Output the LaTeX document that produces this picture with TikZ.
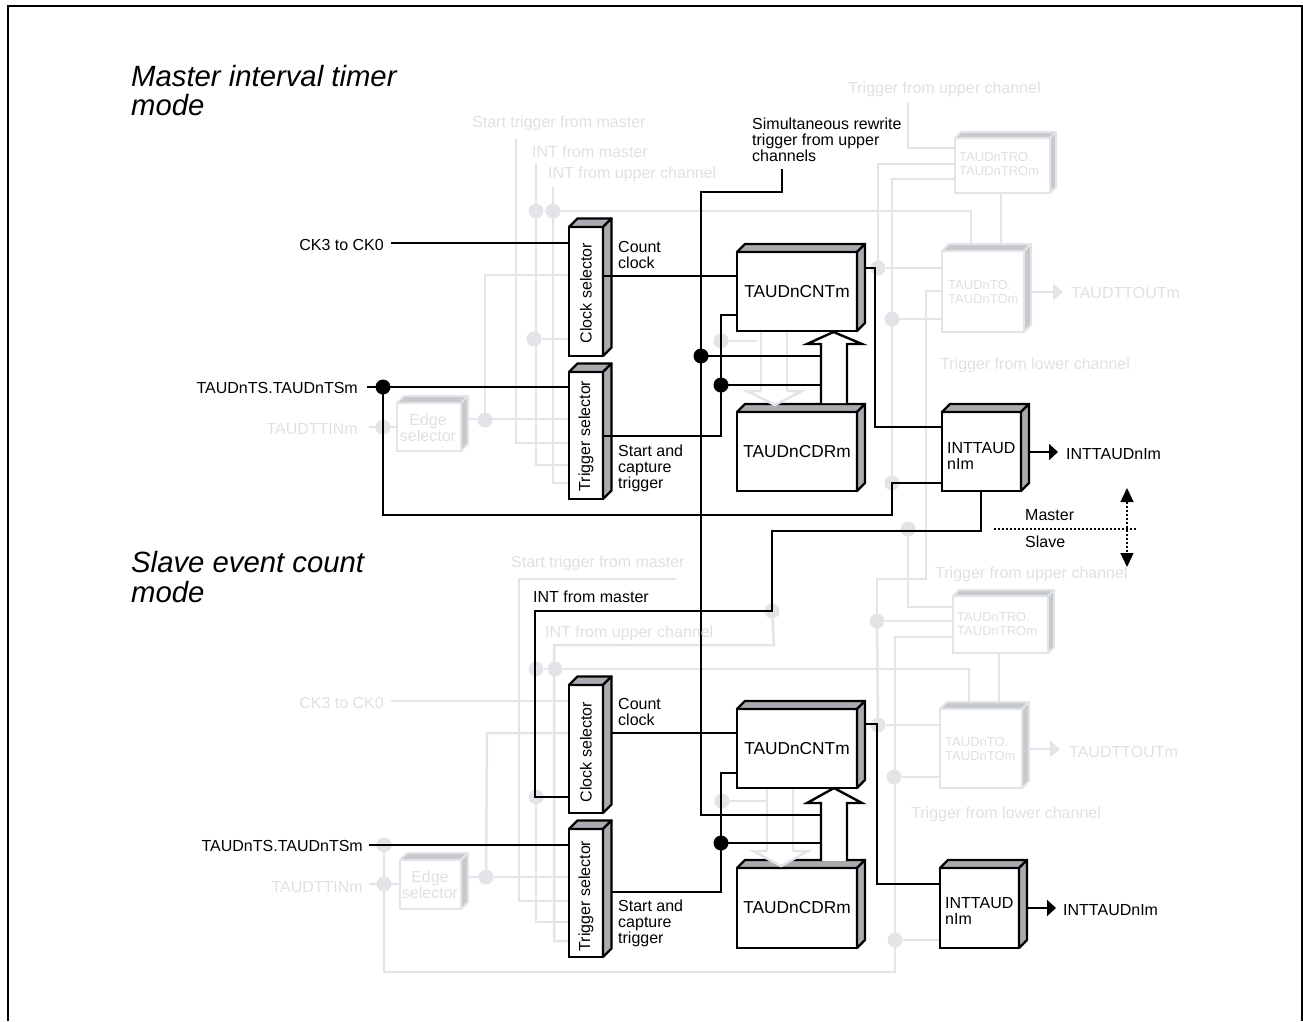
\documentclass[tikz,border=0pt]{standalone}
\usepackage{fontspec}
\setmainfont{Liberation Sans}
\usetikzlibrary{arrows.meta}
\pgfdeclarelayer{grayl}
\pgfdeclarelayer{blackl}
\pgfsetlayers{grayl,blackl,main}
\definecolor{gl}{HTML}{E2E4E8}
\definecolor{gt}{HTML}{DEE0E4}
\definecolor{gface}{HTML}{C6C9CD}
\definecolor{bface}{HTML}{A8ABAF}
\tikzset{
  lab/.style={inner sep=0pt,font=\fontsize{16}{16}\selectfont,text=black},
  glab/.style={lab,text=gt},
  title/.style={inner sep=0pt,align=left,anchor=west,font=\fontsize{29.3}{29.5}\selectfont\itshape},
  bb/.style={draw=black,fill=white,line width=2.4pt,inner sep=0pt,outer sep=0pt,font=\fontsize{17.3}{17.3}\selectfont},
  gb/.style={draw=gl,fill=white,line width=2.5pt,inner sep=0pt,outer sep=0pt},
  bbside/.style={draw=black,fill=bface,line width=2.4pt,line join=round},
  gbside/.style={draw=gl,fill=gface,line width=2pt,line join=round},
  wire/.style={draw=black,line width=2.4pt,line join=miter},
  gwire/.style={draw=gl,line width=2.5pt,line join=miter},
  bdot/.style={circle,fill=black,inner sep=0pt,minimum size=15pt},
  gdot/.style={circle,fill=gl,inner sep=0pt,minimum size=15pt},
  garr/.style={gwire,-{Triangle[length=10pt,width=16pt,fill=gl]}},
  barr/.style={wire,-{Triangle[length=9pt,width=16pt,fill=black]}},
  dotl/.style={draw=black,line width=1.3pt,dash pattern=on 2pt off 2pt},
  tip/.style={draw=black,line width=1.3pt,dash pattern=on 2pt off 2pt,{Triangle[length=14pt,width=13pt,fill=black]}-{Triangle[length=14pt,width=13pt,fill=black]}}
}
% style, name, x1, y1, x2, y2, depth, text
\newcommand\threed[8]{%
  \node[#1,name=#2,anchor=north west,minimum width={(#5-#3)*1pt},minimum height={(#6-#4)*1pt}] at (#3,#4) {#8};
  \draw[#1side] (#2.north west) -- ([shift={(#7,-#7)}]#2.north west) -- ([shift={(#7,-#7)}]#2.north east) -- (#2.north east) -- cycle;
  \draw[#1side] (#2.north east) -- ([shift={(#7,-#7)}]#2.north east) -- ([shift={(#7,-#7)}]#2.south east) -- (#2.south east) -- cycle;
}
\begin{document}
\begin{tikzpicture}[x=1pt,y=-1pt]
\useasboundingbox (0,0) rectangle (1303,1021);
\coordinate (fa) at (7.5,1021); \coordinate (fb) at (7.5,6); \coordinate (fc) at (1302,6); \coordinate (fd) at (1302,1021);
\draw[line width=2pt,line join=miter] (fa) -- (fb) -- (fc) -- (fd);

\node[title] (t1) at (131,90.5) {Master interval timer\\mode};
\node[title] (t2) at (131,577) {Slave event count\\mode};

% ---------- boxes: upper ----------
\threed{gb}{edgeA}{397}{403}{461}{451}{7}{}
\threed{gb}{troA}{955}{138}{1050}{193}{6}{}
\threed{gb}{toA}{942}{251}{1024}{332}{7}{}
\threed{bb}{clkA}{569}{227}{603}{356}{8.5}{}
\threed{bb}{trgA}{569}{372}{603}{499}{8.5}{}
\threed{bb}{cntA}{737}{252}{857}{331}{8}{TAUDnCNTm}
\threed{bb}{cdrA}{737}{412}{857}{491}{8}{TAUDnCDRm}
\threed{bb}{intA}{942}{412}{1021}{491}{8}{}
% ---------- boxes: lower ----------
\threed{gb}{edgeB}{400}{860}{461}{909}{7}{}
\threed{gb}{troB}{953}{596}{1048}{653}{6}{}
\threed{gb}{toB}{940}{709}{1022}{788}{7}{}
\threed{bb}{clkB}{569}{685}{603}{813}{8.5}{}
\threed{bb}{trgB}{569}{829}{603}{957}{8.5}{}
\threed{bb}{cntB}{737}{709}{857}{788}{8}{TAUDnCNTm}
\threed{bb}{cdrB}{737}{868}{857}{948}{8}{TAUDnCDRm}
\threed{bb}{intB}{940}{868}{1019}{948}{8}{}

% ---------- box texts ----------
\node[lab,rotate=90] (clkAt) at (586,293) {Clock selector};
\node[lab,rotate=90] (trgAt) at (586,436) {Trigger selector};
\node[lab,rotate=90] (clkBt) at (586,752) {Clock selector};
\node[lab,rotate=90] (trgBt) at (586,896) {Trigger selector};
\node[glab,align=center,anchor=center] (edgeAt) at (428,428) {Edge\\selector};
\node[glab,align=center,anchor=center] (edgeBt) at (430,885) {Edge\\selector};
\node[glab,align=left,anchor=west,font=\fontsize{13}{13.5}\selectfont] (troAt) at (959,164) {TAUDnTRO.\\TAUDnTROm};
\node[glab,align=left,anchor=west,font=\fontsize{13}{13.5}\selectfont] (troBt) at (957,624) {TAUDnTRO.\\TAUDnTROm};
\node[glab,align=left,anchor=west,font=\fontsize{13}{13.5}\selectfont] (toAt) at (948,292) {TAUDnTO.\\TAUDnTOm};
\node[glab,align=left,anchor=west,font=\fontsize{13}{13.5}\selectfont] (toBt) at (945,749) {TAUDnTO.\\TAUDnTOm};
\node[lab,align=left,anchor=west] (intAt) at (947,456) {INTTAUD\\nIm};
\node[lab,align=left,anchor=west] (intBt) at (945,911) {INTTAUD\\nIm};

% ---------- labels ----------
\node[lab,anchor=base east] (ckA) at (384,250) {CK3 to CK0};
\node[lab,anchor=base east] (tsA) at (358,393) {TAUDnTS.TAUDnTSm};
\node[glab,anchor=base east] (ttA) at (358,434) {TAUDTTINm};
\node[glab,anchor=base west] (l1) at (472,127) {Start trigger from master};
\node[glab,anchor=base west] (l2) at (532,157) {INT from master};
\node[glab,anchor=base west] (l3) at (548,178) {INT from upper channel};
\node[glab,anchor=base west] (l4) at (848,93) {Trigger from upper channel};
\node[glab,anchor=base west] (l5) at (940,369) {Trigger from lower channel};
\node[glab,anchor=base west] (l6) at (1071,298) {TAUDTTOUTm};
\node[lab,align=left,anchor=west] (sim) at (752,139.5) {Simultaneous rewrite\\trigger from upper\\channels};
\node[lab,align=left,anchor=west] (ccA) at (618,255) {Count\\clock};
\node[lab,align=left,anchor=west] (scA) at (618,468) {Start and\\capture\\trigger};
\node[lab,anchor=base west] (oA) at (1066,459) {INTTAUDnIm};
\node[lab,anchor=base west] (ma) at (1025,520) {Master};
\node[lab,anchor=base west] (sl) at (1025,547) {Slave};

\node[glab,anchor=base east] (ckB) at (384,708) {CK3 to CK0};
\node[lab,anchor=base east] (tsB) at (363,851) {TAUDnTS.TAUDnTSm};
\node[glab,anchor=base east] (ttB) at (363,892) {TAUDTTINm};
\node[glab,anchor=base west] (m1) at (511,567) {Start trigger from master};
\node[lab,anchor=base west] (m2) at (533,602) {INT from master};
\node[glab,anchor=base west] (m3) at (545,637) {INT from upper channel};
\node[glab,anchor=base west] (m4) at (935,578) {Trigger from upper channel};
\node[glab,anchor=base west] (m5) at (911,818) {Trigger from lower channel};
\node[glab,anchor=base west] (m6) at (1069,757) {TAUDTTOUTm};
\node[lab,align=left,anchor=west] (ccB) at (618,711.5) {Count\\clock};
\node[lab,align=left,anchor=west] (scB) at (618,923) {Start and\\capture\\trigger};
\node[lab,anchor=base west] (oB) at (1063,915) {INTTAUDnIm};

% ---------- gray wires and junctions ----------
\begin{pgfonlayer}{grayl}
\foreach \n/\x/\y in {g1/536/211,g2/553/211,g3/485/420,g4/534/339,g5/383/427,g6/878/268,g7/892/319,g8/892/483,g9/721/341,g10/908/529,
  h1/536/669,h2/555/669,h3/486/877,h4/536/797,h5/384/845,h6/384/884,h7/877/621,h8/878/725,h9/894/777,h10/895/940,h11/722/801,h12/772/611}
  \node[gdot] (\n) at (\x,\y) {};
\path[gwire] (516,139) -- (516,443) -- (trgA.west |- 0,443);
\path[gwire] (536,163) -- (536,465) -- (trgA.west |- 0,465);
\path[gwire] (553,187) -- (553,483) -- (trgA.west |- 0,483);
\path[gwire] (g1) -- (g2) -- (971,211) -- (971,244);
\path[gwire] (clkA.west |- 0,275) -- (485,275) -- (g3.center);
\path[gwire] (edgeA.east) ++(7,0) |- (trgA.west |- 0,419);
\path[gwire] (g4) -- (clkA.west |- 0,339);
\path[gwire] (369,427) -- (edgeA.west |- 0,427);
\path[gwire] (908,103) |- (troA.west |- 0,148);
\path[gwire] (troA.west |- 0,164) -| (g6.center);
\path[gwire] (g6) -- (toA.west |- 0,268);
\path[gwire] (troA.west |- 0,179) -| (g8.center);
\path[gwire] (g7) -- (toA.west |- 0,319);
\path[gwire] (toA.west |- 0,291) -| (926,579) -| (h7.center);
\path[gwire] (g10.center) |- (troB.west |- 0,607);
\path[gwire] (troA.south -| 1001,0) -- (toA.north -| 1001,0);
\path[garr] (1031,292) -- (1063,292);
\path[gwire] (g9) -- (757,341);
\path[gwire] (761,331) -- (761,391);
\path[gwire] (787,331) -- (787,391);

\path[gwire] (676,579) -- (519,579) -- (519,901) -- (trgB.west |- 0,901);
\path[gwire] (h12.center) -- (774,645) -- (554,645) -- (554,941) -- (trgB.west |- 0,941);
\path[gwire] (h1) -- (h2) -- (969,669) -- (969,702);
\path[gwire] (391,701) -- (clkB.west |- 0,701);
\path[gwire] (clkB.west |- 0,733) -- (487,733) -- (h3.center);
\path[gwire] (edgeB.east) ++(7,0) |- (trgB.west |- 0,877);
\path[gwire] (h4.center) -- (536,922) -- (trgB.west |- 0,922);
\path[gwire] (h5.center) -- (384,972) -- (895,972) -- (h10.center);
\path[gwire] (h10) -- (toB.west |- 0,940);
\path[gwire] (369,884) -- (edgeB.west |- 0,884);
\path[gwire] (h7) -- (troB.west |- 0,621);
\path[gwire] (h7.center) -- (h8.center);
\path[gwire] (h8) -- (toB.west |- 0,725);
\path[gwire] (troB.west |- 0,637) -| (h10.center);
\path[gwire] (h9) -- (toB.west |- 0,777);
\path[gwire] (troB.south -| 999,0) -- (toB.north -| 999,0);
\path[garr] (1030,749) -- (1060,749);
\path[gwire] (h11) -- (767,801);
\path[gwire] (767,788) -- (767,851);
\path[gwire] (793,788) -- (793,851);
\end{pgfonlayer}

% ---------- gray block-arrow heads ----------
\draw[gl,line width=2.5pt,fill=white,line join=miter] (761,391) -- (747,391) -- (775,405) -- (802,391) -- (787,391);
\draw[gl,line width=2.5pt,fill=white,line join=miter] (767,851) -- (753,851) -- (781,866) -- (808,851) -- (793,851);

% ---------- black block arrows ----------
\draw[wire,fill=white] (821,403) -- (821,344) -- (807,344) -- (833.5,332) -- (862,344) -- (847,344) -- (847,403);
\draw[wire,fill=white] (821,861) -- (821,803) -- (807,803) -- (834,788) -- (862,803) -- (847,803) -- (847,861);

% ---------- black junctions ----------
\node[bdot] (j1) at (383,387) {};
\node[bdot] (j2) at (701,356) {};
\node[bdot] (j3) at (721,385) {};
\node[bdot] (j4) at (721,843) {};

% wires that cross the selector side faces in the upper channel
\path[wire] (clkA.east |- 0,276) -- (cntA.west |- 0,276);
\path[wire] (cntA.west |- 0,315) -- (721,315) -- (721,436) -- (trgA.east |- 0,436);

% ---------- black wires ----------
\begin{pgfonlayer}{blackl}
\path[wire] (391,243) -- (clkA.west |- 0,243);
\path[wire] (367,387) -- (trgA.west |- 0,387);
\path[wire] (j1.center) -- (383,515) -- (892,515) -- (892,483) -- (intA.west |- 0,483);
\path[wire] (782,169) -- (782,192) -- (701,192) -- (701,815) -- (821,815);
\path[wire] (j2.center) -- (821,356);
\path[wire] (j3.center) -- (821,385);
\path[wire] (865,268) -- (875,268) -- (875,427) -- (intA.west |- 0,427);
\path[barr] (1029,452) -- (1058,452);
\path[wire] (intA.south -| 981,0) -- (981,531) -- (772,531) -- (772,611) -- (535,611) -- (535,797) -- (clkB.west |- 0,797);
\path[wire] (369,845) -- (trgB.west |- 0,845);
\path[wire] (612,733) -- (cntB.west |- 0,733);
\path[wire] (612,892) -- (721,892) -- (721,773) -- (cntB.west |- 0,773);
\path[wire] (j4.center) -- (821,843);
\path[wire] (865,724) -- (877,724) -- (877,884) -- (intB.west |- 0,884);
\path[barr] (1027,908) -- (1056,908);
\path[dotl] (994,529) -- (1137,529);
\path[tip] (1127,488) -- (1127,567);
\end{pgfonlayer}
\end{tikzpicture}
\end{document}
